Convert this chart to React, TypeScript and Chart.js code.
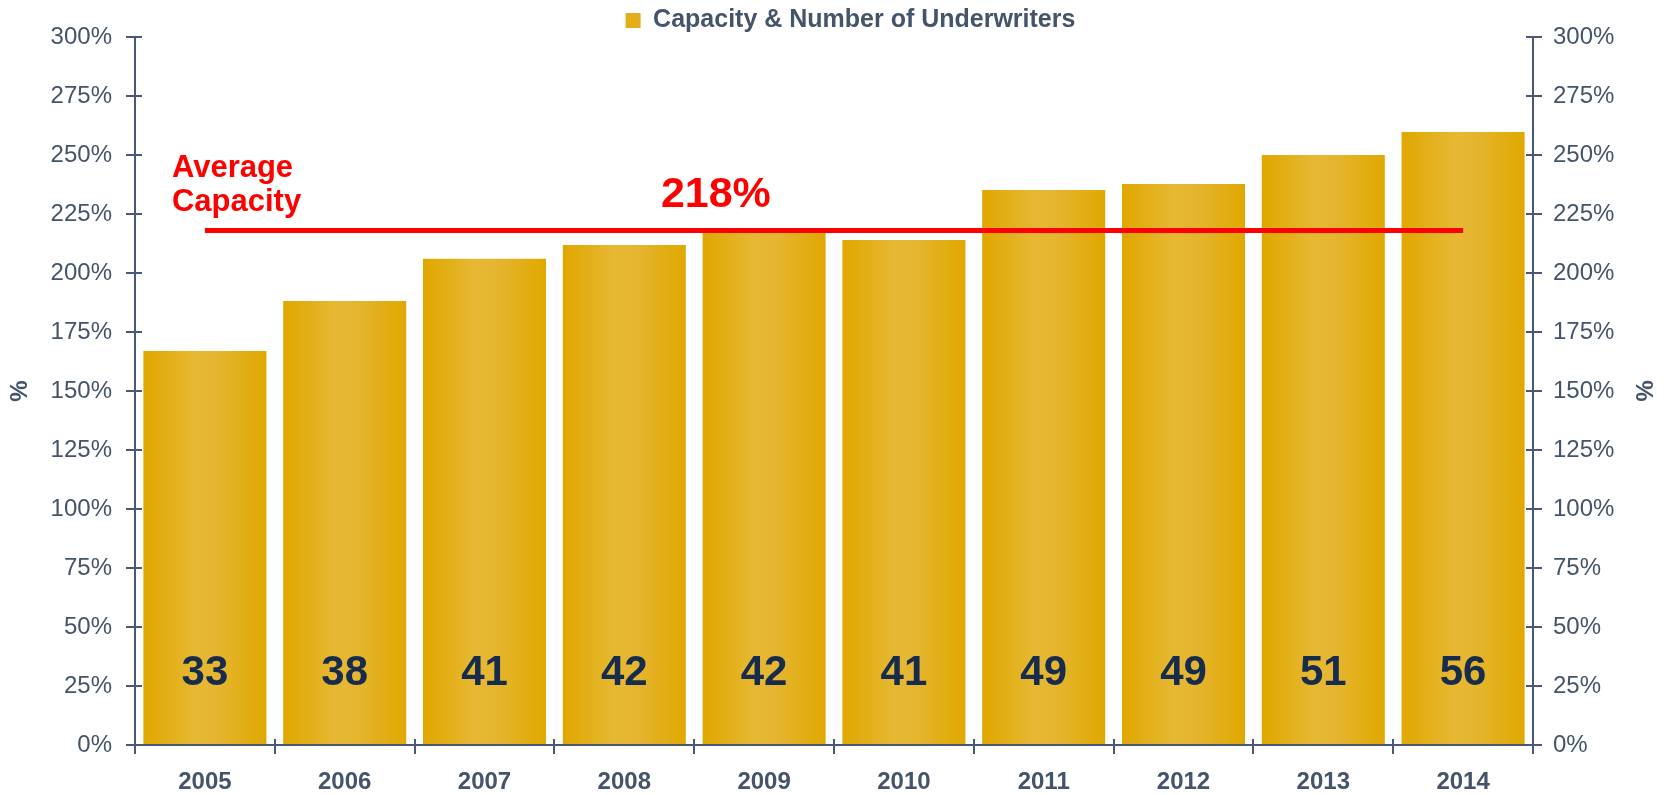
import React, { useEffect, useRef } from "react";
import { Chart, registerables } from "chart.js";

Chart.register(...registerables);

const years = ["2005", "2006", "2007", "2008", "2009", "2010", "2011", "2012", "2013", "2014"];
const capacityPct = [166.9, 188.1, 206.0, 211.9, 217.4, 214.0, 235.2, 237.7, 250.0, 259.7];
const underwriters = [33, 38, 41, 42, 42, 41, 49, 49, 51, 56];
const averageLine = [218, 218, 218, 218, 218, 218, 218, 218, 218, 218];
const averageValueLabel = "218%";
const averageTitle = ["Average", "Capacity"];
const legendLabel = "Capacity & Number of Underwriters";
const axisTitle = "%";

const SLATE = "#44546A";
const AXIS = "#4A5878";
const RED = "#FF0000";
const NAVY = "#172B4D";
const FONT = "'Liberation Sans', Arial, sans-serif";

const gradientBars = {
  id: "gradientBars",
  beforeDatasetDraw(chart: any, args: any) {
    const meta = args.meta;
    if (meta.type !== "bar") return;
    const ctx = chart.ctx;
    meta.data.forEach((el: any) => {
      const w = el.width;
      const x0 = el.x - w / 2;
      const g = ctx.createLinearGradient(x0, 0, x0 + w, 0);
      g.addColorStop(0, "#E0A700");
      g.addColorStop(0.42, "#E6B833");
      g.addColorStop(0.6, "#E5B530");
      g.addColorStop(1, "#E0A800");
      el.options = Object.assign({}, el.options, { backgroundColor: g });
    });
  },
};

const innerTicks = {
  id: "innerTicks",
  afterDraw(chart: any) {
    const { ctx, scales } = chart;
    const x = scales.x;
    const yl = scales.y;
    const yr = scales.y2;
    ctx.save();
    ctx.strokeStyle = AXIS;
    ctx.lineWidth = 2;
    ctx.beginPath();
    yl.ticks.forEach((t: any) => {
      const py = Math.round(yl.getPixelForValue(t.value));
      ctx.moveTo(yl.right, py);
      ctx.lineTo(yl.right + 7, py);
      ctx.moveTo(yr.left, py);
      ctx.lineTo(yr.left - 7, py);
    });
    for (let i = 0; i <= years.length; i++) {
      const px = Math.round(x.getPixelForValue(i - 0.5));
      ctx.moveTo(px, x.top);
      ctx.lineTo(px, x.top - 6);
    }
    ctx.stroke();
    ctx.restore();
  },
};

const labelsPlugin = {
  id: "labelsPlugin",
  afterDatasetsDraw(chart: any) {
    const { ctx, scales } = chart;
    const x = scales.x;
    const y = scales.y;
    const meta = chart.getDatasetMeta(0);
    ctx.save();
    ctx.fillStyle = NAVY;
    ctx.font = `bold 42px ${FONT}`;
    ctx.textAlign = "center";
    ctx.textBaseline = "middle";
    meta.data.forEach((el: any, i: number) => {
      ctx.fillText(String(underwriters[i]), el.x, y.getPixelForValue(30.5));
    });
    const lineY = y.getPixelForValue(averageLine[0]);
    ctx.fillStyle = RED;
    ctx.font = `bold 43px ${FONT}`;
    ctx.textAlign = "center";
    ctx.fillText(averageValueLabel, x.getPixelForValue(3.655), lineY - 35);
    ctx.font = `bold 31px ${FONT}`;
    ctx.textAlign = "left";
    ctx.fillText(averageTitle[0], x.getPixelForValue(-0.236), lineY - 62);
    ctx.fillText(averageTitle[1], x.getPixelForValue(-0.236), lineY - 28);
    ctx.restore();
  },
};

export default function App() {
  const ref = useRef<HTMLCanvasElement | null>(null);
  useEffect(() => {
    if (!ref.current) return;
    Chart.defaults.font.family = FONT;
    const chart = new Chart(ref.current, {
      type: "bar",
      data: {
        labels: years,
        datasets: [
          {
            type: "bar",
            label: legendLabel,
            data: capacityPct,
            backgroundColor: "#E3AE1A",
            borderWidth: 0,
            barPercentage: 0.88,
            categoryPercentage: 1,
            yAxisID: "y",
            order: 1,
          } as any,
          {
            type: "line",
            label: "Average",
            data: averageLine,
            borderColor: RED,
            borderWidth: 5,
            pointRadius: 0,
            fill: false,
            yAxisID: "y",
            order: 0,
          } as any,
        ],
      },
      options: {
        responsive: false,
        animation: false,
        events: [],
        layout: { padding: { left: 34, right: 0, top: 0, bottom: 0 } },
        plugins: {
          tooltip: { enabled: false },
          legend: {
            display: true,
            position: "top",
            maxHeight: 37,
            labels: {
              color: SLATE,
              font: { size: 25, weight: "bold", family: FONT },
              boxWidth: 15,
              boxHeight: 15,
              padding: 8,
              filter: (item: any) => item.datasetIndex === 0,
            },
          },
        },
        scales: {
          x: {
            type: "category",
            offset: true,
            grid: {
              offset: true,
              drawOnChartArea: false,
              drawTicks: true,
              tickLength: 9,
              color: AXIS,
              lineWidth: 2,
            },
            border: { display: true, color: AXIS, width: 2 },
            ticks: {
              color: SLATE,
              font: { size: 24, weight: "bold", family: FONT },
              padding: 14,
              maxRotation: 0,
            },
            afterFit: (s: any) => {
              s.height = 50;
            },
          },
          y: {
            type: "linear",
            position: "left",
            min: 0,
            max: 300,
            grid: {
              drawOnChartArea: false,
              drawTicks: true,
              tickLength: 9,
              color: AXIS,
              lineWidth: 2,
            },
            border: { display: true, color: AXIS, width: 2 },
            ticks: {
              stepSize: 25,
              color: SLATE,
              font: { size: 24, family: FONT },
              padding: 14,
              callback: (v: any) => v + "%",
            },
            title: {
              display: true,
              text: axisTitle,
              color: SLATE,
              font: { size: 24, weight: "bold", family: FONT },
              padding: { top: -28, bottom: 0 },
            },
            afterFit: (s: any) => {
              s.width = 101;
            },
          },
          y2: {
            type: "linear",
            position: "right",
            min: 0,
            max: 300,
            grid: {
              drawOnChartArea: false,
              drawTicks: true,
              tickLength: 9,
              color: AXIS,
              lineWidth: 2,
            },
            border: { display: true, color: AXIS, width: 2 },
            ticks: {
              stepSize: 25,
              color: SLATE,
              font: { size: 24, family: FONT },
              padding: 11,
              callback: (v: any) => v + "%",
            },
            title: {
              display: true,
              text: axisTitle,
              color: SLATE,
              font: { size: 24, weight: "bold", family: FONT },
              padding: { top: 10, bottom: 0 },
            },
            afterFit: (s: any) => {
              s.width = 134;
            },
          },
        },
      } as any,
      plugins: [gradientBars, innerTicks, labelsPlugin],
    });
    return () => chart.destroy();
  }, []);
  return (
    <div style={{ position: "absolute", left: 0, top: 0, width: 1667, height: 795, background: "#fff" }}>
      <canvas ref={ref} width={1667} height={795} style={{ display: "block" }} />
    </div>
  );
}
